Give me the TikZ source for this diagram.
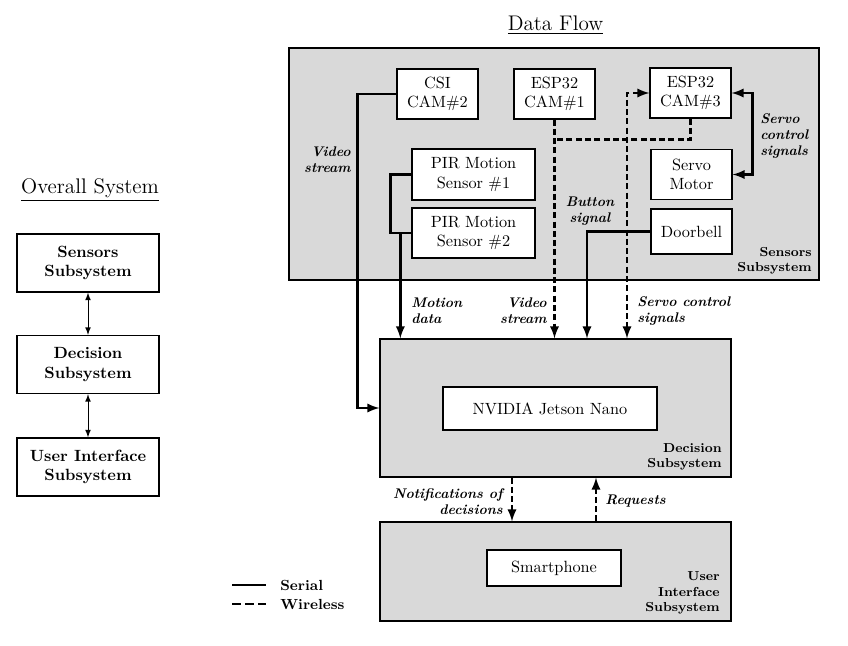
\documentclass[tikz,border=0pt]{standalone}
\usepackage{tikz}
\usetikzlibrary{calc,arrows}
\newlength\unitpx
\setlength\unitpx{0.615pt}

\begin{document}
\begin{tikzpicture}[x=\unitpx,y=-\unitpx,
    subsys/.style={draw,fill=gray!30,thick},
    comp/.style={draw,fill=white,thick,align=center,inner sep=1pt,
      minimum width=81\unitpx,minimum height=50\unitpx},
    ovbox/.style={draw,thick,align=center,font=\bfseries,
      minimum width=142\unitpx,minimum height=58\unitpx},
    sublbl/.style={font=\footnotesize\bfseries,align=right,inner sep=0pt},
    sig/.style={font=\fontsize{8.6}{9.8}\selectfont\bfseries\itshape,inner sep=0pt},
    serial/.style={line width=1.5pt},
    wireless/.style={line width=1.5pt,dash pattern=on 3.7pt off 2pt},
    title/.style={font=\fontsize{13}{15}\selectfont}]
\useasboundingbox (0,0) rectangle (848,646);

% titles
\node[title] (tover) at (90,190) {\underline{Overall System}};
\node[title] (tflow) at (555.5,25) {\underline{Data Flow}};

% overall system
\node[ovbox] (os) at (88,263) {Sensors\\Subsystem};
\node[ovbox] (od) at (88,364.5) {Decision\\Subsystem};
\node[ovbox] (ou) at (88,467) {User Interface\\Subsystem};
\draw[semithick,latex-latex] (os) -- (od);
\draw[semithick,latex-latex] (od) -- (ou);

% subsystems
\node[subsys,minimum width=530\unitpx,minimum height=232\unitpx] (sens) at (554,164) {};
\node[subsys,minimum width=351\unitpx,minimum height=138\unitpx] (dec) at (555.5,408) {};
\node[subsys,minimum width=351\unitpx,minimum height=99\unitpx] (ui) at (555.5,571.5) {};
\node[sublbl,anchor=east] at (812,261) {Sensors\\Subsystem};
\node[sublbl,anchor=east] at (722,457) {Decision\\Subsystem};
\node[sublbl,anchor=east] at (720,593) {User\\Interface\\Subsystem};

% components
\node[comp] (csi) at (437.5,94) {CSI\\CAM\#2};
\node[comp] (cam1) at (554.5,94) {ESP32\\CAM\#1};
\node[comp] (cam3) at (690.5,93) {ESP32\\CAM\#3};
\node[comp] (servo) at (691.5,174.5) {Servo\\Motor};
\node[comp,minimum height=45\unitpx] (door) at (691.5,231.5) {Doorbell};
\node[comp,minimum width=123\unitpx,minimum height=51\unitpx] (pir1) at (473.5,174.5) {PIR Motion\\Sensor \#1};
\node[comp,minimum width=123\unitpx] (pir2) at (473.5,233) {PIR Motion\\Sensor \#2};
\node[comp,minimum width=214\unitpx,minimum height=43\unitpx] (jet) at (550,408.5) {NVIDIA Jetson Nano};
\node[comp,minimum width=134\unitpx,minimum height=36\unitpx] (phone) at (554,568) {Smartphone};

% serial links
\draw[serial,-latex] (csi.west) -- ++(-39,0) |- (dec.west);
\draw[serial] (pir1.west) -- ++(-21,0) |- (pir2.west);
\draw[serial,-latex] ([xshift=-11\unitpx]pir2.west) -- ([xshift=-11\unitpx]pir2.west |- dec.north);
\draw[serial,latex-latex] (cam3.east) -- ++(21,0) |- (servo.east);
\draw[serial,-latex] (door.west) -| ([xshift=31.5\unitpx]dec.north);

% wireless links
\draw[wireless,-latex] (cam1.south) -- (cam1.south |- dec.north);
\draw[wireless] (cam3.south) |- ([yshift=-20\unitpx]cam1.south);
\draw[wireless,latex-latex] (cam3.west) -| ([xshift=71.5\unitpx]dec.north);
\draw[wireless,-latex] ([xshift=-43.5\unitpx]dec.south) -- ([xshift=-43.5\unitpx]dec.south |- ui.north);
\draw[wireless,-latex] ([xshift=40.5\unitpx]ui.north) -- ([xshift=40.5\unitpx]ui.north |- dec.south);

% signal labels
\node[sig,anchor=east,align=right] (lvid) at (351,160) {Video\\stream};
\node[sig,anchor=west,align=left] (lmot) at (411,311) {Motion\\data};
\node[sig,anchor=east,align=right] (lvid2) at (547,311) {Video\\stream};
\node[sig,anchor=west,align=left] (lsrv) at (637,311) {Servo control\\signals};
\node[sig,align=center] (lbtn) at (590,211) {Button\\signal};
\node[sig,anchor=west,align=left] (lsrv2) at (760,136) {Servo\\control\\signals};
\node[sig,anchor=east,align=right] (lnot) at (503,502) {Notifications of\\decisions};
\node[sig,anchor=west] (lreq) at (605,501) {Requests};

% legend
\node[font=\small\bfseries,anchor=west,inner sep=0pt] (lser) at (280,585) {Serial};
\node[font=\small\bfseries,anchor=west,inner sep=0pt] (lwir) at (280,604) {Wireless};
\draw[line width=1.8pt] ([xshift=-48\unitpx]lser.west) -- ([xshift=-14\unitpx]lser.west);
\draw[line width=1.8pt,dash pattern=on 5.5pt off 2.5pt] ([xshift=-48\unitpx]lwir.west) -- ([xshift=-14\unitpx]lwir.west);
\end{tikzpicture}
\end{document}
